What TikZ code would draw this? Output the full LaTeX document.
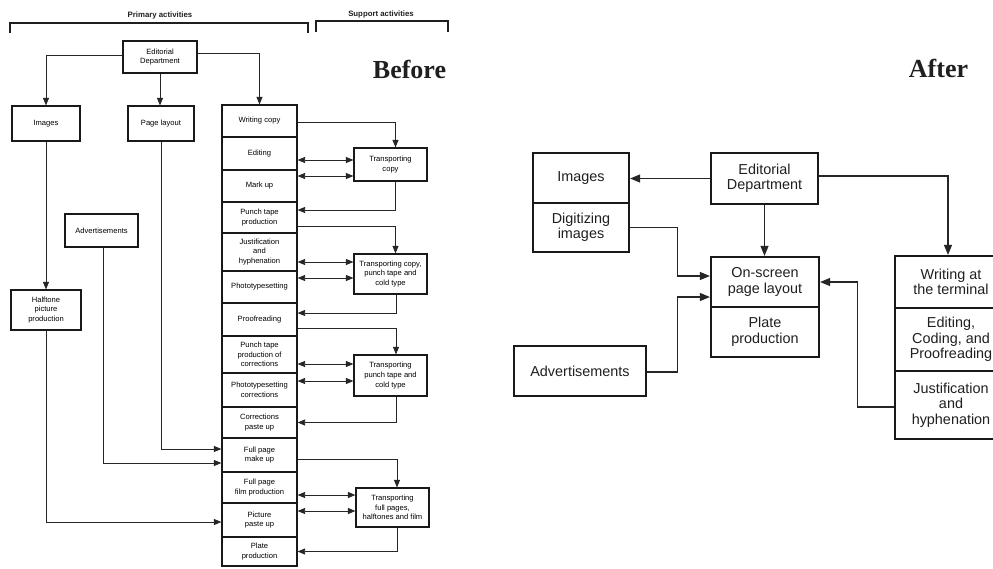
\documentclass[tikz,border=0pt]{standalone}
\usepackage{fontspec}
\setmainfont{Liberation Sans}
\newfontfamily\headfont{Liberation Serif}
\usetikzlibrary{arrows.meta}

\begin{document}
\begin{tikzpicture}[x=1pt,y=-1pt,
  lbox/.style={draw=black!90, line width=1.2pt, inner sep=0pt, align=center,
    font=\fontsize{7.6}{9.6}\selectfont, text=black},
  col/.style={lbox, minimum width=75pt},
  supbox/.style={lbox, minimum width=73pt},
  larr/.style={draw=black!85, line width=0.85pt, -{Triangle[length=7.5pt,width=6pt]}},
  ldbl/.style={draw=black!85, line width=0.85pt,
    {Triangle[length=7.5pt,width=6pt]}-{Triangle[length=7.5pt,width=6pt]}},
  rbox/.style={draw=black!90, line width=2.2pt, inner sep=0pt, align=center,
    font=\fontsize{14.4}{15.5}\selectfont, text=black!88},
  rarr/.style={draw=black!85, line width=1.1pt, -{Triangle[length=10pt,width=8pt]}},
  bracket/.style={draw=black!88, line width=1.2pt},
  grouplabel/.style={font=\fontsize{7.8}{9}\selectfont\bfseries, text=black!88},
  bigtitle/.style={font=\headfont\fontsize{26}{28}\selectfont\bfseries, text=black!88}
]
\useasboundingbox (0,0) rectangle (993,568);
\clip (0,0) rectangle (993,568);

% ---------------- Before ----------------
\node[grouplabel] (prim) at (160,15) {Primary activities};
\node[grouplabel] (supp) at (381,14) {Support activities};
\draw[bracket] (10,33) |- (308,23) -- (308,33);
\draw[bracket] (316,32) |- (448,21) -- (448,32);
\node[bigtitle, anchor=base] (before) at (409.5,78) {Before};

\node[lbox, minimum width=74pt, minimum height=32pt] (led) at (160,57) {Editorial\\Department};
\node[lbox, minimum width=68pt, minimum height=35pt] (limg) at (46,123.5) {Images};
\node[lbox, minimum width=66pt, minimum height=35pt] (lpl) at (161,123.5) {Page layout};
\node[lbox, minimum width=73pt, minimum height=33pt] (lad) at (101.5,230.5) {Advertisements};
\node[lbox, minimum width=70pt, minimum height=40pt] (lht) at (46,310) {Halftone\\picture\\production};

% production column
\node[col, minimum height=32pt] (c1)  at (259.5,121)   {Writing copy};
\node[col, minimum height=33pt] (c2)  at (259.5,153.5) {Editing};
\node[col, minimum height=32pt] (c3)  at (259.5,186)   {Mark up};
\node[col, minimum height=31pt] (c4)  at (259.5,217.5) {Punch tape\\production};
\node[col, minimum height=38pt] (c5)  at (259.5,252)   {Justification\\and\\hyphenation};
\node[col, minimum height=32pt] (c6)  at (259.5,287)   {Phototypesetting};
\node[col, minimum height=33pt] (c7)  at (259.5,319.5) {Proofreading};
\node[col, minimum height=37pt] (c8)  at (259.5,354.5) {Punch tape\\production of\\corrections};
\node[col, minimum height=34pt] (c9)  at (259.5,390)   {Phototypesetting\\corrections};
\node[col, minimum height=31pt] (c10) at (259.5,422.5) {Corrections\\paste up};
\node[col, minimum height=34pt] (c11) at (259.5,455)   {Full page\\make up};
\node[col, minimum height=31pt] (c12) at (259.5,487.5) {Full page\\film production};
\node[col, minimum height=34pt] (c13) at (259.5,520)   {Picture\\paste up};
\node[col, minimum height=29pt] (c14) at (259.5,551.5) {Plate\\production};

% support boxes
\node[supbox, minimum height=33pt] (t1) at (390.5,164.5) {Transporting\\copy};
\node[supbox, minimum height=40pt] (t2) at (390.5,274)   {Transporting copy,\\punch tape and\\cold type};
\node[supbox, minimum height=41pt] (t3) at (390.5,375.5) {Transporting\\punch tape and\\cold type};
\node[supbox, minimum height=39pt] (t4) at (392.5,507.5) {Transporting\\full pages,\\halftones and film};

% primary flow
\draw[larr] ([yshift=2pt]led.west) -| (limg.north);
\draw[larr] (led.south) -- (led.south |- lpl.north);
\draw[larr] ([yshift=4pt]led.east) -| (c1.north);
\draw[larr] (limg.south) -- (lht.north);
\draw[larr] (lht.south) |- ([yshift=-2pt]c13.west);
\draw[larr] (lpl.south) |- ([yshift=6pt]c11.west);
\draw[larr] ([xshift=1.5pt]lad.south) |- ([yshift=-8pt]c11.west);

% support loops
\coordinate (a1) at ([yshift=-1pt]c1.east);
\draw[larr] (a1) -| ([xshift=5pt]t1.north);
\coordinate (d2) at ([yshift=-6.5pt]c2.east);
\draw[ldbl] (d2) -- (d2 -| t1.west);
\coordinate (d3) at ([yshift=10pt]c3.east);
\draw[ldbl] (d3) -- (d3 -| t1.west);
\coordinate (r4) at ([yshift=7.5pt]c4.east);
\draw[larr] ([xshift=5pt]t1.south) |- (r4);

\coordinate (a4) at ([yshift=-8.5pt]c4.east);
\draw[larr] (a4) -| ([xshift=5pt]t2.north);
\coordinate (d5) at ([yshift=-10pt]c5.east);
\draw[ldbl] (d5) -- (d5 -| t2.west);
\coordinate (d6) at ([yshift=9pt]c6.east);
\draw[ldbl] (d6) -- (d6 -| t2.west);
\coordinate (r7) at ([yshift=6.5pt]c7.east);
\draw[larr] ([xshift=5.5pt]t2.south) |- (r7);

\coordinate (a7) at ([yshift=-8.5pt]c7.east);
\draw[larr] (a7) -| ([xshift=5.5pt]t3.north);
\coordinate (d8) at ([yshift=-9.5pt]c8.east);
\draw[ldbl] (d8) -- (d8 -| t3.west);
\coordinate (d9) at ([yshift=9pt]c9.east);
\draw[ldbl] (d9) -- (d9 -| t3.west);
\draw[larr] ([xshift=5.5pt]t3.south) |- (c10.east);

\coordinate (a11) at ([yshift=-4pt]c11.east);
\draw[larr] (a11) -| ([xshift=4.5pt]t4.north);
\coordinate (d12) at ([yshift=-7.5pt]c12.east);
\draw[ldbl] (d12) -- (d12 -| t4.west);
\coordinate (d13) at ([yshift=9pt]c13.east);
\draw[ldbl] (d13) -- (d13 -| t4.west);
\draw[larr] ([xshift=4.5pt]t4.south) |- (c14.east);

% ---------------- After ----------------
\node[bigtitle, anchor=base] (after) at (938.5,77) {After};

\node[rbox, minimum width=96pt, minimum height=50pt] (rimg) at (581,178) {Images};
\node[rbox, minimum width=96pt, minimum height=49pt] (rdig) at (581,227.5) {Digitizing\\images};
\node[rbox, minimum width=107pt, minimum height=51pt] (red) at (764.5,178.5) {Editorial\\Department};
\node[rbox, minimum width=108pt, minimum height=50pt] (rosl) at (765,282) {On-screen\\page layout};
\node[rbox, minimum width=108pt, minimum height=50pt] (rplate) at (765,332) {Plate\\production};
\node[rbox, minimum width=132pt, minimum height=50pt] (rads) at (580,371) {Advertisements};
\node[rbox, minimum width=112pt, minimum height=52pt] (rwt) at (951,282) {Writing at\\the terminal};
\node[rbox, minimum width=112pt, minimum height=63pt] (redit) at (951,339.5) {Editing,\\Coding, and\\Proofreading};
\node[rbox, minimum width=112pt, minimum height=68pt] (rjust) at (951,405) {Justification\\and\\hyphenation};

\draw[rarr] (red.west) -- (red.west -| rimg.east);
\draw[rarr] ([yshift=2.5pt]red.east) -| ([xshift=-3pt]rwt.north);
\draw[rarr] (red.south) -- (red.south |- rosl.north);
\draw[rarr] (rdig.east) -- ++(47,0) |- ([yshift=6pt]rosl.west);
\draw[rarr] ([yshift=-1pt]rads.east) -- ++(30,0) |- ([yshift=-15pt]rosl.west);
\draw[rarr] ([yshift=-2pt]rjust.west) -- ++(-36,0) |- (rosl.east);
\end{tikzpicture}
\end{document}
